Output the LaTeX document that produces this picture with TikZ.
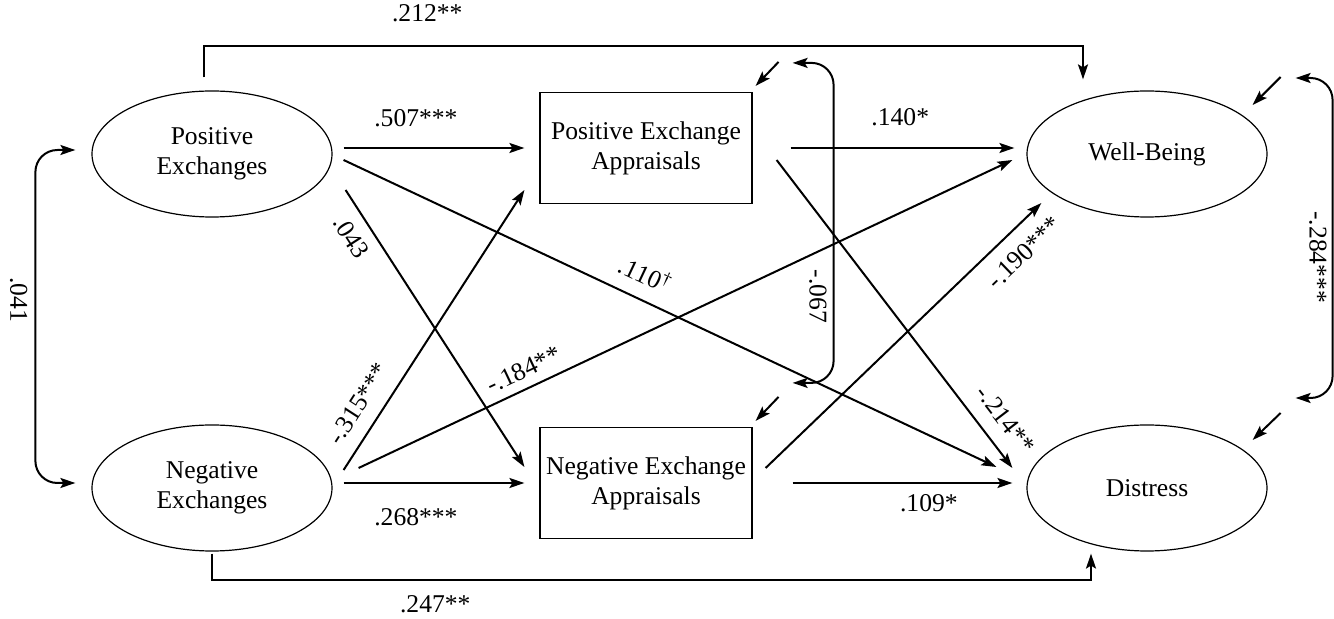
\documentclass[tikz,border=0pt]{standalone}
\usepackage{fontspec}
\setmainfont{Liberation Serif}
\usetikzlibrary{calc,arrows.meta,shapes.geometric}

\begin{document}
\begin{tikzpicture}[x=0.5pt, y=-0.5pt,
    every node/.style={font=\fontsize{12.8}{15}\selectfont},
    latent/.style={ellipse, draw, line width=0.6pt,
      minimum width=120pt, minimum height=63pt,
      inner sep=0pt, align=center},
    appr/.style={rectangle, draw, line width=0.6pt,
      minimum width=106pt, minimum height=55.5pt,
      inner sep=0pt, align=center},
    link/.style={line width=1pt,
      -{Stealth[length=7.5pt, width=5pt, inset=1.5pt]}},
    cov/.style={line width=1pt, rounded corners=11pt,
      {Stealth[length=7.5pt, width=5pt, inset=1.5pt]}-{Stealth[length=7.5pt, width=5pt, inset=1.5pt]}},
    coef/.style={inner sep=0pt}
  ]
  \useasboundingbox (0,0) rectangle (1334,619);

  \node[latent] (pe) at (212,154) {Positive\\Exchanges};
  \node[latent] (ne) at (212,488) {Negative\\Exchanges};
  \node[appr] (pa) at (646,148) {Positive Exchange\\Appraisals};
  \node[appr] (na) at (646,483) {Negative Exchange\\Appraisals};
  \node[latent] (wb) at (1147,154) {Well-Being};
  \node[latent] (di) at (1147,488) {Distress};

  \draw[link] ($(pe.east)+(11,-6)$) -- node[coef, above=10pt, pos=0.4] {.507***} ($(pa.west)+(-15,0)$);
  \draw[link] ($(pe.east)+(11,6)$) -- node[coef, sloped, above=7pt, pos=0.446] {.110\textsuperscript{\dag}} ($(di.west)+(-30,-21)$);
  \draw[link] ($(pe.east)+(13,36)$) -- node[coef, sloped, below=5.5pt, pos=0.13] {.043} ($(na.west)+(-15,-16)$);
  \draw[link] ($(ne.east)+(11,-18)$) -- node[coef, sloped, above=7pt, pos=0.19] {-.315***} ($(pa.west)+(-15,42)$);
  \draw[link] ($(ne.east)+(26,-20)$) -- node[coef, sloped, above=4.5pt, pos=0.265] {-.184**} ($(wb.west)+(-14,6)$);
  \draw[link] ($(ne.east)+(11,-5)$) -- node[coef, below=12pt, pos=0.4] {.268***} ($(na.west)+(-15,0)$);

  \draw[link] ($(pa.east)+(38,0)$) -- node[coef, above=10.5pt, pos=0.49] {.140*} ($(wb.west)+(-12,-6)$);
  \draw[link] ($(pa.east)+(24,12)$) -- node[coef, sloped, above=7.2pt, pos=0.89] {-.214**} ($(di.west)+(-14,-20)$);
  \draw[link] ($(na.east)+(13,-15)$) -- node[coef, sloped, below=7pt, pos=0.878] {-.190***} ($(wb.west)+(15,49)$);
  \draw[link] ($(na.east)+(40,0)$) -- node[coef, below=5pt, pos=0.62] {.109*} ($(di.west)+(-14,-5)$);

  \draw[link] ([xshift=-4pt,yshift=6.5pt]pe.north) -- ++(0,-31) -| node[coef, pos=0.127, above=12pt] {.212**} ([xshift=-32pt,yshift=5.5pt]wb.north);
  \draw[link] ([yshift=-1pt]ne.south) -- ++(0,26) -| node[coef, pos=0.127, below=7.5pt] {.247**} ([xshift=-28pt,yshift=-1pt]di.south);

  \draw[cov] ([xshift=-8pt,yshift=2pt]pe.west) -- ++(-40,0) -- node[coef, sloped, below=3.5pt, pos=0.45] {.041} ++(0,333) -- ([xshift=-8pt,yshift=2.5pt]ne.west);
  \draw[cov] ([xshift=20pt,yshift=14.5pt]pa.north east) -- ++(41,0) -- node[coef, sloped, below=3pt, pos=0.73] {-.067} ++(0,320) -- ([xshift=20pt,yshift=22pt]na.north east);
  \draw[cov] ([xshift=14pt,yshift=38pt]wb.east) -- ++(37,0) -- node[coef, sloped, below=2.5pt, pos=0.56] {-.284***} ++(0,320) -- ([xshift=14pt,yshift=45pt]di.east);

  \draw[link] ([xshift=13pt,yshift=15pt]pa.north east) -- ([xshift=1.5pt,yshift=3pt]pa.north east);
  \draw[link] ([xshift=13pt,yshift=15pt]na.north east) -- ([xshift=1.5pt,yshift=3pt]na.north east);
  \draw[link] ([xshift=6.5pt,yshift=38.5pt]wb.east) -- ([xshift=-7.5pt,yshift=24.5pt]wb.east);
  \draw[link] ([xshift=6.5pt,yshift=37.5pt]di.east) -- ([xshift=-7.5pt,yshift=24pt]di.east);
\end{tikzpicture}
\end{document}
